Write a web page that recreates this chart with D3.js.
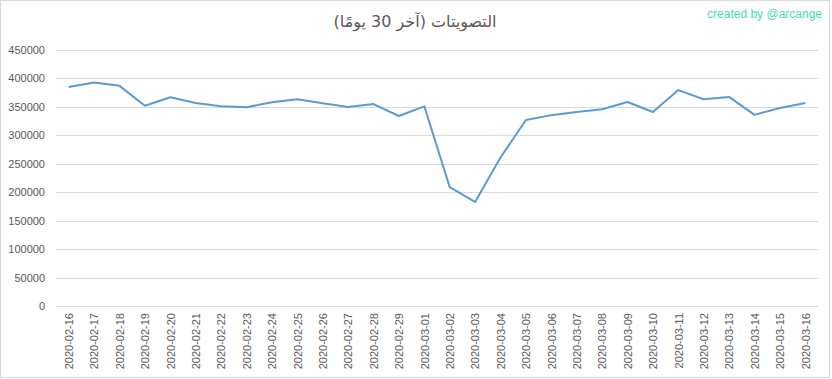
<!DOCTYPE html>
<html>
<head>
<meta charset="utf-8">
<script src="https://cdn.jsdelivr.net/npm/d3@7"></script>
<style>
  body { margin: 0; background: #fff; }
  svg { display: block; font-family: 'Liberation Sans', Arial, sans-serif; }
</style>
</head>
<body>
<svg width="832" height="379"></svg>
<script>
var dates = ['2020-02-16', '2020-02-17', '2020-02-18', '2020-02-19', '2020-02-20', '2020-02-21',
             '2020-02-22', '2020-02-23', '2020-02-24', '2020-02-25', '2020-02-26', '2020-02-27',
             '2020-02-28', '2020-02-29', '2020-03-01', '2020-03-02', '2020-03-03', '2020-03-04',
             '2020-03-05', '2020-03-06', '2020-03-07', '2020-03-08', '2020-03-09', '2020-03-10',
             '2020-03-11', '2020-03-12', '2020-03-13', '2020-03-14', '2020-03-15', '2020-03-16'];
var votes = [385000, 393000, 387000, 352000, 367000, 357000,
             351000, 349500, 358000, 363500, 356500, 350000,
             355000, 334000, 351000, 209000, 183000, 261000,
             327000, 335500, 341000, 346000, 358500, 341000,
             379500, 363500, 367500, 336000, 348000, 357000];
var yTicks = [0, 50000, 100000, 150000, 200000, 250000, 300000, 350000, 400000, 450000];

var svg = d3.select('svg');
var margin = { top: 50, right: 14, bottom: 73, left: 56 };
var w = 832 - margin.left - margin.right;
var h = 379 - margin.top - margin.bottom;

// chart area border
svg.append('rect')
    .attr('x', 0.5).attr('y', 0.5)
    .attr('width', 829).attr('height', 377)
    .attr('fill', '#fff')
    .attr('stroke', '#d9d9d9');

svg.append('text')
    .attr('x', 415)
    .attr('y', 27)
    .attr('text-anchor', 'middle')
    .style('font-size', '16px')
    .style('fill', '#595959')
    .style('font-family', "'DejaVu Sans', 'Liberation Sans', sans-serif")
    .text('التصويتات (آخر 30 يومًا)');

svg.append('text')
    .attr('x', 822)
    .attr('y', 18)
    .attr('text-anchor', 'end')
    .style('font-size', '12px')
    .style('fill', '#3fe0a8')
    .text('created by @arcange');

var g = svg.append('g')
    .attr('transform', 'translate(' + margin.left + ',' + margin.top + ')');

var x = d3.scalePoint().domain(dates).range([0, w]).padding(0.5);
var y = d3.scaleLinear().domain([0, 450000]).range([h, 0]);

// gridlines
g.selectAll('.grid')
    .data(yTicks)
    .enter()
    .append('line')
    .attr('x1', 0).attr('x2', w)
    .attr('y1', function(d) { return Math.round(y(d)) + 0.5; })
    .attr('y2', function(d) { return Math.round(y(d)) + 0.5; })
    .attr('stroke', '#d9d9d9')
    .attr('stroke-width', 1);

var yAxis = g.append('g')
    .call(d3.axisLeft(y).tickValues(yTicks).tickSize(0).tickPadding(11).tickFormat(d3.format('d')));
yAxis.select('.domain').remove();
yAxis.selectAll('text')
    .style('font-size', '11px')
    .style('fill', '#595959');

var xAxis = g.append('g')
    .attr('transform', 'translate(0,' + h + ')')
    .call(d3.axisBottom(x).tickSize(0));
xAxis.select('.domain').remove();
xAxis.selectAll('text')
    .attr('transform', 'rotate(-90)')
    .attr('x', -7)
    .attr('y', 0)
    .attr('dy', '.35em')
    .style('text-anchor', 'end')
    .style('font-size', '11px')
    .style('fill', '#595959');

var line = d3.line()
    .x(function(d, i) { return x(dates[i]); })
    .y(function(d) { return y(d); });

g.append('path')
    .datum(votes)
    .attr('d', line)
    .attr('fill', 'none')
    .attr('stroke', '#5b9bd5')
    .attr('stroke-width', 2)
    .attr('stroke-linejoin', 'round');
</script>
</body>
</html>
